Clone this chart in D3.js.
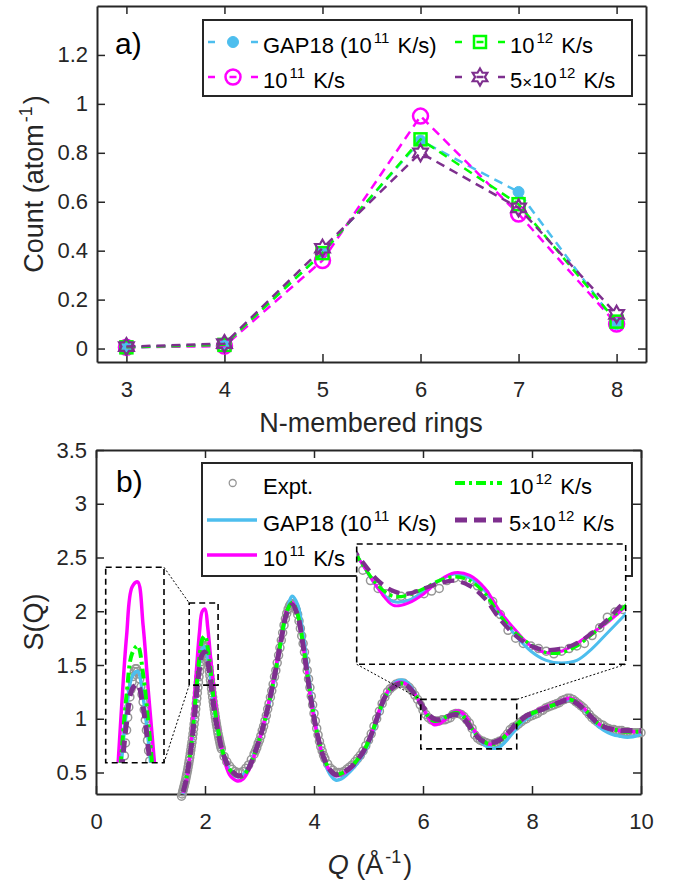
<!DOCTYPE html>
<html><head><meta charset="utf-8">
<script src="https://cdn.jsdelivr.net/npm/d3@7"></script>
<style>
body{margin:0;background:#fff}
text{font-family:"Liberation Sans",Arial,Helvetica,sans-serif;white-space:pre}
</style>
</head><body>
<svg id="chart"></svg>
<script>
// ---------------- Panel a data ----------------
const ringN      = [3, 4, 5, 6, 7, 8];
const ringGap18  = [0.005, 0.015, 0.39, 0.85, 0.64, 0.10];
const ring1e11   = [0.005, 0.010, 0.36, 0.95, 0.55, 0.10];
const ring1e12   = [0.005, 0.015, 0.39, 0.855, 0.59, 0.11];
const ring5e12   = [0.008, 0.020, 0.41, 0.80, 0.575, 0.14];
const ringTicksY = [0, 0.2, 0.4, 0.6, 0.8, 1, 1.2];

// ---------------- Panel b data ----------------
const qModel = [1.60,1.65,1.70,1.75,1.80,1.85,1.90,1.95,2.00,2.05,2.10,2.15,2.20,2.25,2.30,2.35,2.40,2.45,2.50,
  2.6,2.7,2.8,2.9,3.0,3.1,3.2,3.3,3.4,3.5,
  3.6,3.7,3.8,3.9,4.0,4.1,4.2,4.3,4.4,4.5,
  4.6,4.7,4.8,4.9,5.0,5.1,5.2,5.3,5.4,5.5,
  5.6,5.7,5.8,5.9,6.0,6.1,6.2,6.3,6.4,6.5,
  6.6,6.7,6.8,6.9,7.0,7.1,7.2,7.3,7.4,7.5,
  7.6,7.7,7.8,7.9,8.0,8.1,8.2,8.3,8.4,8.5,
  8.6,8.7,8.8,8.9,9.0,9.1,9.2,9.3,9.4,9.5,
  9.6,9.7,9.8,9.9,10.0];
const sGap18 = [0.30,0.41,0.56,0.76,1.02,1.30,1.52,1.65,1.67,1.57,1.39,1.18,0.99,0.85,0.73,0.64,0.57,0.52,0.49,
  0.46,0.48,0.55,0.67,0.81,0.98,1.19,1.44,1.73,1.99,
  2.14,2.06,1.78,1.40,1.04,0.77,0.59,0.48,0.43,0.44,
  0.48,0.53,0.59,0.67,0.77,0.90,1.05,1.19,1.28,1.34,
  1.36,1.34,1.28,1.19,1.10,1.01,0.96,0.965,1.00,1.04,
  1.065,1.05,1.00,0.91,0.83,0.77,0.735,0.725,0.735,0.78,
  0.84,0.90,0.96,1.00,1.04,1.07,1.09,1.11,1.13,1.15,
  1.17,1.18,1.16,1.12,1.06,1.00,0.94,0.90,0.87,0.85,
  0.84,0.83,0.83,0.84,0.86];
const s1e11 = [0.31,0.40,0.55,0.80,1.15,1.50,1.81,2.00,2.02,1.85,1.58,1.33,1.10,0.91,0.75,0.63,0.54,0.48,0.45,
  0.42,0.44,0.52,0.65,0.81,1.00,1.22,1.48,1.77,2.01,
  2.08,1.97,1.68,1.32,1.00,0.76,0.60,0.51,0.47,0.48,
  0.51,0.55,0.61,0.69,0.79,0.93,1.08,1.21,1.29,1.33,
  1.34,1.32,1.27,1.19,1.10,1.01,0.945,0.955,0.99,1.04,
  1.07,1.06,1.01,0.92,0.85,0.79,0.765,0.77,0.80,0.84,
  0.88,0.93,0.98,1.02,1.05,1.08,1.10,1.12,1.14,1.16,
  1.18,1.19,1.17,1.13,1.07,1.01,0.96,0.93,0.91,0.90,
  0.89,0.88,0.88,0.88,0.88];
const s1e12 = [0.32,0.42,0.57,0.77,1.03,1.33,1.58,1.74,1.77,1.66,1.46,1.22,1.02,0.87,0.74,0.65,0.58,0.53,0.50,
  0.46,0.47,0.54,0.66,0.81,0.99,1.21,1.46,1.75,2.00,
  2.08,1.97,1.69,1.34,1.02,0.77,0.61,0.52,0.48,0.49,
  0.52,0.56,0.62,0.69,0.79,0.92,1.07,1.20,1.28,1.32,
  1.33,1.31,1.26,1.19,1.10,1.02,0.98,0.985,1.01,1.04,
  1.055,1.04,0.99,0.905,0.84,0.795,0.765,0.765,0.79,0.835,
  0.885,0.935,0.98,1.02,1.05,1.07,1.09,1.11,1.13,1.15,
  1.17,1.18,1.16,1.12,1.07,1.01,0.96,0.93,0.91,0.90,
  0.89,0.88,0.88,0.88,0.88];
const s5e12 = [0.32,0.42,0.57,0.75,0.98,1.26,1.47,1.60,1.62,1.53,1.36,1.15,0.98,0.85,0.73,0.65,0.59,0.54,0.51,
  0.47,0.48,0.54,0.66,0.81,0.99,1.21,1.46,1.74,1.98,
  2.06,1.96,1.68,1.33,1.01,0.77,0.61,0.52,0.48,0.49,
  0.52,0.56,0.62,0.69,0.79,0.92,1.07,1.20,1.27,1.31,
  1.33,1.31,1.26,1.19,1.11,1.04,1.00,0.99,1.01,1.03,
  1.04,1.02,0.97,0.89,0.83,0.79,0.775,0.78,0.80,0.84,
  0.89,0.95,0.99,1.03,1.05,1.07,1.09,1.11,1.13,1.15,
  1.17,1.17,1.15,1.11,1.06,1.01,0.96,0.93,0.91,0.90,
  0.89,0.89,0.89,0.89,0.89];
// experimental S(Q): [Q, S] pairs
const exptPoints = [
 [1.57,0.28],[1.58,0.30],[1.59,0.32],[1.60,0.34],[1.61,0.36],[1.62,0.38],[1.63,0.40],[1.64,0.42],[1.65,0.445],[1.66,0.47],
 [1.67,0.495],[1.68,0.52],[1.69,0.55],[1.70,0.58],[1.71,0.61],[1.72,0.64],[1.73,0.675],[1.74,0.71],[1.75,0.745],[1.76,0.78],
 [1.77,0.82],[1.78,0.86],[1.79,0.905],[1.80,0.95],[1.81,0.995],[1.82,1.04],[1.83,1.09],[1.84,1.14],[1.85,1.19],[1.86,1.24],
 [1.87,1.29],[1.88,1.34],[1.89,1.39],[1.90,1.44],[1.91,1.49],[1.92,1.53],[1.93,1.57],[1.94,1.60],[1.95,1.63],[1.96,1.65],
 [1.97,1.67],[1.98,1.68],[1.99,1.68],[2.00,1.67],[2.01,1.66],[2.02,1.64],[2.03,1.61],[2.04,1.58],[2.05,1.55],[2.06,1.52],
 [2.07,1.48],[2.08,1.44],[2.09,1.40],[2.10,1.36],[2.11,1.32],[2.12,1.28],[2.13,1.24],[2.14,1.20],[2.15,1.16],[2.16,1.12],
 [2.17,1.085],[2.18,1.05],[2.19,1.015],[2.20,0.98],[2.21,0.95],[2.22,0.92],[2.23,0.89],[2.24,0.86],[2.25,0.835],[2.26,0.81],
 [2.27,0.785],[2.28,0.76],[2.29,0.74],[2.30,0.72],
 [2.35,0.65],[2.40,0.60],[2.45,0.56],[2.50,0.53],[2.55,0.51],[2.60,0.50],[2.65,0.50],[2.70,0.51],[2.75,0.54],[2.80,0.57],[2.85,0.62],
 [2.900,0.67],[2.925,0.70],[2.950,0.73],[2.975,0.77],[3.000,0.80],[3.025,0.84],[3.050,0.89],[3.075,0.93],[3.100,0.98],
 [3.125,1.03],[3.150,1.09],[3.175,1.14],[3.200,1.20],[3.225,1.26],[3.250,1.32],[3.275,1.39],[3.300,1.45],[3.325,1.52],
 [3.350,1.59],[3.375,1.66],[3.400,1.73],[3.425,1.80],[3.450,1.87],[3.475,1.93],[3.500,1.98],[3.525,2.02],[3.550,2.05],
 [3.575,2.07],[3.600,2.07],[3.625,2.06],[3.650,2.04],[3.675,2.01],[3.700,1.97],[3.725,1.91],[3.750,1.84],[3.775,1.77],
 [3.800,1.70],[3.825,1.62],[3.850,1.54],[3.875,1.45],[3.900,1.37],[3.925,1.29],[3.950,1.21],[3.975,1.13],[4.000,1.05],
 [4.025,0.98],[4.050,0.91],[4.075,0.85],[4.100,0.79],[4.125,0.74],[4.150,0.70],[4.175,0.66],[4.200,0.63],
 [4.25,0.58],[4.30,0.54],[4.35,0.52],[4.40,0.50],[4.45,0.50],[4.50,0.50],[4.55,0.51],[4.60,0.53],[4.65,0.55],[4.70,0.57],
 [4.75,0.60],[4.80,0.63],[4.85,0.66],[4.90,0.70],[4.95,0.75],[5.00,0.80],[5.05,0.86],[5.10,0.93],[5.15,1.00],[5.20,1.07],
 [5.25,1.14],[5.30,1.20],[5.35,1.25],[5.40,1.28],[5.45,1.30],[5.50,1.32],[5.55,1.33],[5.60,1.33],[5.65,1.33],[5.70,1.31],
 [5.75,1.29],[5.80,1.26],[5.85,1.22],[5.90,1.18],[5.95,1.13],[6.00,1.08],[6.05,1.04],[6.10,1.01],[6.15,0.99],[6.20,0.98],
 [6.25,0.98],[6.30,0.98],[6.35,0.99],[6.40,0.99],[6.45,1.00],[6.50,1.01],[6.55,1.04],[6.60,1.05],[6.65,1.05],[6.70,1.04],
 [6.75,1.02],[6.80,0.99],[6.85,0.96],[6.90,0.91],[6.95,0.85],[7.00,0.82],[7.05,0.80],[7.10,0.79],[7.15,0.78],[7.20,0.77],
 [7.25,0.76],[7.30,0.77],[7.35,0.78],[7.40,0.79],[7.45,0.80],[7.50,0.83],[7.55,0.86],[7.60,0.90],[7.65,0.92],[7.70,0.93],
 [7.75,0.95],[7.80,0.97],[7.85,0.99],[7.90,1.00],[7.95,1.02],[8.00,1.03],[8.05,1.04],[8.10,1.05],[8.15,1.07],[8.20,1.08],
 [8.25,1.10],[8.30,1.11],[8.35,1.12],[8.40,1.13],[8.45,1.14],[8.50,1.15],[8.55,1.17],[8.60,1.18],[8.65,1.19],[8.70,1.19],
 [8.75,1.18],[8.80,1.16],[8.85,1.14],[8.90,1.12],[8.95,1.10],[9.00,1.07],[9.05,1.04],[9.10,1.01],[9.15,0.99],[9.20,0.97],
 [9.25,0.95],[9.30,0.94],[9.35,0.92],[9.40,0.91],[9.45,0.90],[9.50,0.90],[9.55,0.89],[9.60,0.89],[9.65,0.89],[9.70,0.88],
 [9.75,0.88],[9.80,0.87],[9.85,0.87],[9.90,0.87],[9.95,0.87],[10.00,0.87]
];
const qTicks = [0, 2, 4, 6, 8, 10];
const sTicks = [0.5, 1, 1.5, 2, 2.5, 3, 3.5];
// zoomed regions [Qmin,Qmax,Smin,Smax]
const zoomLeft  = [1.71, 2.24, 1.313, 2.077];
const zoomRight = [5.96, 7.72, 0.72, 1.18];

// ---------------- setup ----------------
const W = 678, H = 880, AX = '#262626', FS = 22, LFS = 27;
const C_BLUE = '#4DBEEE', C_MAG = '#FF00FF', C_GRN = '#00FF00', C_PUR = '#7E2F8E', C_EXP = '#969696';
const svg = d3.select('#chart').attr('width', W).attr('height', H);
svg.append('rect').attr('width', W).attr('height', H).attr('fill', '#fff');

function rich(textSel, parts, fs) {
  let shifted = false;
  parts.forEach(([s, type]) => {
    const t = textSel.append('tspan').text(s);
    if (type === 'sup') {
      t.attr('font-size', Math.round(fs * 0.68)).attr('dy', -fs * 0.42).attr('dx', 2);
      shifted = true;
    } else {
      if (shifted) { t.attr('dy', fs * 0.42).attr('dx', 2); shifted = false; }
      if (type === 'x') t.attr('font-size', Math.round(fs * 0.75));
    }
  });
  return textSel;
}
function hexagram(R) {
  const r = R / Math.sqrt(3), pts = [];
  for (let i = 0; i < 12; i++) {
    const a = -Math.PI / 2 + i * Math.PI / 6, rr = i % 2 ? r : R;
    pts.push([rr * Math.cos(a), rr * Math.sin(a)]);
  }
  return 'M' + pts.map(p => p[0].toFixed(2) + ',' + p[1].toFixed(2)).join('L') + 'Z';
}
function marker(g, type, x, y, color) {
  if (type === 'dot') g.append('circle').attr('cx', x).attr('cy', y).attr('r', 5.5).attr('fill', color).attr('stroke', color).attr('stroke-width', 1);
  else if (type === 'circle') g.append('circle').attr('cx', x).attr('cy', y).attr('r', 7.5).attr('fill', 'none').attr('stroke', color).attr('stroke-width', 2.5);
  else if (type === 'square') g.append('rect').attr('x', x - 6).attr('y', y - 6).attr('width', 12).attr('height', 12).attr('fill', 'none').attr('stroke', color).attr('stroke-width', 2.5);
  else if (type === 'hex') g.append('path').attr('d', hexagram(8.5)).attr('transform', `translate(${x},${y})`).attr('fill', 'none').attr('stroke', color).attr('stroke-width', 2.2);
}
function styleAxis(g) {
  g.attr('font-size', FS).attr('font-family', '"Liberation Sans",Arial,sans-serif');
  g.select('.domain').attr('stroke', AX).attr('stroke-width', 2);
  g.selectAll('.tick line').attr('stroke', AX).attr('stroke-width', 1.5);
  g.selectAll('.tick text').attr('fill', AX);
}
function frame(x, y, xt, yt, padB) {
  const [x0, x1] = x.range(), [y0, y1] = y.range();
  const fmt = d => String(d);
  styleAxis(svg.append('g').attr('transform', `translate(0,${y0})`)
    .call(d3.axisBottom(x).tickValues(xt).tickSizeInner(-8).tickSizeOuter(0).tickPadding(padB).tickFormat(fmt)));
  styleAxis(svg.append('g').attr('transform', `translate(0,${y1})`)
    .call(d3.axisTop(x).tickValues(xt).tickSizeInner(-8).tickSizeOuter(0).tickFormat('')));
  styleAxis(svg.append('g').attr('transform', `translate(${x0},0)`)
    .call(d3.axisLeft(y).tickValues(yt).tickSizeInner(-8).tickSizeOuter(0).tickPadding(9).tickFormat(fmt)));
  styleAxis(svg.append('g').attr('transform', `translate(${x1},0)`)
    .call(d3.axisRight(y).tickValues(yt).tickSizeInner(-8).tickSizeOuter(0).tickFormat('')));
}

const LBL_GAP = [['GAP18 (10'], ['11', 'sup'], [' K/s)']];
const LBL_11  = [['10'], ['11', 'sup'], [' K/s']];
const LBL_12  = [['10'], ['12', 'sup'], [' K/s']];
const LBL_5X  = [['5'], ['×', 'x'], ['10'], ['12', 'sup'], [' K/s']];

// ================= Panel a =================
const xa = d3.scaleLinear().domain([2.7, 8.3]).range([97, 646]);
const ya = d3.scaleLinear().domain([-0.055, 1.4]).range([362, 6]);
frame(xa, ya, ringN, ringTicksY, 19);

const ringSeries = [
  { v: ringGap18, c: C_BLUE, m: 'dot', lbl: LBL_GAP },
  { v: ring1e11, c: C_MAG, m: 'circle', lbl: LBL_11 },
  { v: ring1e12, c: C_GRN, m: 'square', lbl: LBL_12 },
  { v: ring5e12, c: C_PUR, m: 'hex', lbl: LBL_5X }
];
const gA = svg.append('g');
const lineA = d3.line().x(d => xa(d[0])).y(d => ya(d[1]));
ringSeries.forEach(s => {
  const pts = ringN.map((n, i) => [n, s.v[i]]);
  gA.append('path').attr('d', lineA(pts)).attr('fill', 'none').attr('stroke', s.c)
    .attr('stroke-width', 2.5).attr('stroke-dasharray', '9,6');
  pts.forEach(p => marker(gA, s.m, xa(p[0]), ya(p[1]), s.c));
});
// legend a
svg.append('rect').attr('x', 203).attr('y', 20).attr('width', 429).attr('height', 76)
  .attr('fill', '#fff').attr('stroke', AX).attr('stroke-width', 2);
const legA = [
  { s: ringSeries[0], x: 208, y: 42 }, { s: ringSeries[1], x: 208, y: 77 },
  { s: ringSeries[2], x: 455, y: 42 }, { s: ringSeries[3], x: 455, y: 77 }
];
legA.forEach(e => {
  svg.append('line').attr('x1', e.x).attr('x2', e.x + 50).attr('y1', e.y).attr('y2', e.y)
    .attr('stroke', e.s.c).attr('stroke-width', 2.5).attr('stroke-dasharray', '7,14.5');
  marker(svg, e.s.m, e.x + 25, e.y, e.s.c);
  rich(svg.append('text').attr('x', e.x + 55).attr('y', e.y + 10.5).attr('font-size', FS).attr('fill', '#000'), e.s.lbl, FS);
});
svg.append('text').attr('x', 115).attr('y', 54).attr('font-size', 30).attr('fill', '#000').text('a)');
svg.append('text').attr('x', 371).attr('y', 432).attr('text-anchor', 'middle').attr('font-size', LFS).attr('fill', AX).text('N-membered rings');
rich(svg.append('text').attr('transform', 'translate(43,184) rotate(-90)').attr('text-anchor', 'middle')
  .attr('font-size', LFS).attr('fill', AX), [['Count (atom'], ['-1', 'sup'], [')']], LFS);

// ================= Panel b =================
const xb = d3.scaleLinear().domain([0, 10]).range([96, 641]);
const yb = d3.scaleLinear().domain([0.3, 3.5]).range([794, 450]);
frame(xb, yb, qTicks, sTicks, 19.5);

const modelSeries = [
  { s: sGap18, c: C_BLUE, w: 3.5, dash: null, lbl: LBL_GAP },
  { s: s1e11, c: C_MAG, w: 3.5, dash: null, lbl: LBL_11 },
  { s: s1e12, c: C_GRN, w: 4, dash: '10,4,3,4', lbl: LBL_12 },
  { s: s5e12, c: C_PUR, w: 5, dash: '12,7', lbl: LBL_5X }
];
function drawSQ(g, x, y, scaleW) {
  g.selectAll(null).data(exptPoints).enter().append('circle')
    .attr('cx', d => x(d[0])).attr('cy', d => y(d[1])).attr('r', 4)
    .attr('fill', 'none').attr('stroke', C_EXP).attr('stroke-width', 1.5);
  const ln = d3.line().x(d => x(d[0])).y(d => y(d[1])).curve(d3.curveCatmullRom.alpha(0.5));
  modelSeries.forEach(m => {
    const pts = qModel.map((q, i) => [q, m.s[i]]);
    const p = g.append('path').attr('d', ln(pts)).attr('fill', 'none').attr('stroke', m.c)
      .attr('stroke-width', m.w * scaleW).attr('stroke-linejoin', 'round');
    if (m.dash) p.attr('stroke-dasharray', m.dash);
  });
}
drawSQ(svg.append('g'), xb, yb, 1);

// source rectangles
function srcRect(z) {
  return { x0: xb(z[0]), x1: xb(z[1]), y0: yb(z[3]), y1: yb(z[2]) };
}
const rL = srcRect(zoomLeft), rR = srcRect(zoomRight);
[rL, rR].forEach(r => svg.append('rect').attr('x', r.x0).attr('y', r.y0).attr('width', r.x1 - r.x0).attr('height', r.y1 - r.y0)
  .attr('fill', 'none').attr('stroke', '#000').attr('stroke-width', 1.6).attr('stroke-dasharray', '6,4'));

// legend b
svg.append('rect').attr('x', 202).attr('y', 463).attr('width', 430).attr('height', 113)
  .attr('fill', '#fff').attr('stroke', AX).attr('stroke-width', 2);
svg.append('circle').attr('cx', 232.7).attr('cy', 483).attr('r', 3.5).attr('fill', 'none').attr('stroke', C_EXP).attr('stroke-width', 1.3);
svg.append('text').attr('x', 263).attr('y', 493.5).attr('font-size', FS).attr('fill', '#000').text('Expt.');
const legB = [
  { m: modelSeries[0], x: 207, y: 520 }, { m: modelSeries[1], x: 207, y: 555 },
  { m: modelSeries[2], x: 455, y: 483 }, { m: modelSeries[3], x: 455, y: 520 }
];
legB.forEach(e => {
  const l = svg.append('line').attr('x1', e.x).attr('x2', e.x + (e.x < 300 ? 50 : 47)).attr('y1', e.y).attr('y2', e.y)
    .attr('stroke', e.m.c).attr('stroke-width', e.m.w);
  if (e.m.dash) l.attr('stroke-dasharray', e.m.dash);
  rich(svg.append('text').attr('x', e.x + (e.x < 300 ? 56 : 54)).attr('y', e.y + 10.5).attr('font-size', FS).attr('fill', '#000'), e.m.lbl, FS);
});

// insets
function inset(id, z, box, scaleW) {
  const [bx0, bx1, by0, by1] = box;
  const xi = d3.scaleLinear().domain([z[0], z[1]]).range([bx0, bx1]);
  const yi = d3.scaleLinear().domain([z[2], z[3]]).range([by1, by0]);
  svg.append('clipPath').attr('id', id).append('rect').attr('x', bx0).attr('y', by0).attr('width', bx1 - bx0).attr('height', by1 - by0);
  svg.append('rect').attr('x', bx0).attr('y', by0).attr('width', bx1 - bx0).attr('height', by1 - by0).attr('fill', '#fff');
  drawSQ(svg.append('g').attr('clip-path', `url(#${id})`), xi, yi, scaleW);
  svg.append('rect').attr('x', bx0).attr('y', by0).attr('width', bx1 - bx0).attr('height', by1 - by0)
    .attr('fill', 'none').attr('stroke', '#000').attr('stroke-width', 1.6).attr('stroke-dasharray', '6,4');
}
const boxL = [105.7, 164, 567.3, 762.7];
const boxR = [356.7, 625.7, 544, 664.3];
inset('clipL', zoomLeft, boxL, 1);
inset('clipR', zoomRight, boxR, 0.85);

// connectors
const conn = [
  [boxL[1], boxL[2], rL.x0, rL.y0], [boxL[1], boxL[3], rL.x0, rL.y1],
  [boxR[0], boxR[3], rR.x0, rR.y0], [boxR[1], boxR[3], rR.x1, rR.y0]
];
conn.forEach(c => svg.append('line').attr('x1', c[0]).attr('y1', c[1]).attr('x2', c[2]).attr('y2', c[3])
  .attr('stroke', '#000').attr('stroke-width', 1).attr('stroke-dasharray', '2,2'));

svg.append('text').attr('x', 116).attr('y', 492).attr('font-size', 30).attr('fill', '#000').text('b)');
rich(svg.append('text').attr('x', 370).attr('y', 874).attr('text-anchor', 'middle').attr('font-size', LFS).attr('fill', AX),
  [['Q'], [' (Å'], ['-1', 'sup'], [')']], LFS).select('tspan').attr('font-style', 'italic');
svg.append('text').attr('transform', 'translate(43,622) rotate(-90)').attr('text-anchor', 'middle')
  .attr('font-size', LFS).attr('fill', AX).text('S(Q)');
</script>
</body></html>
